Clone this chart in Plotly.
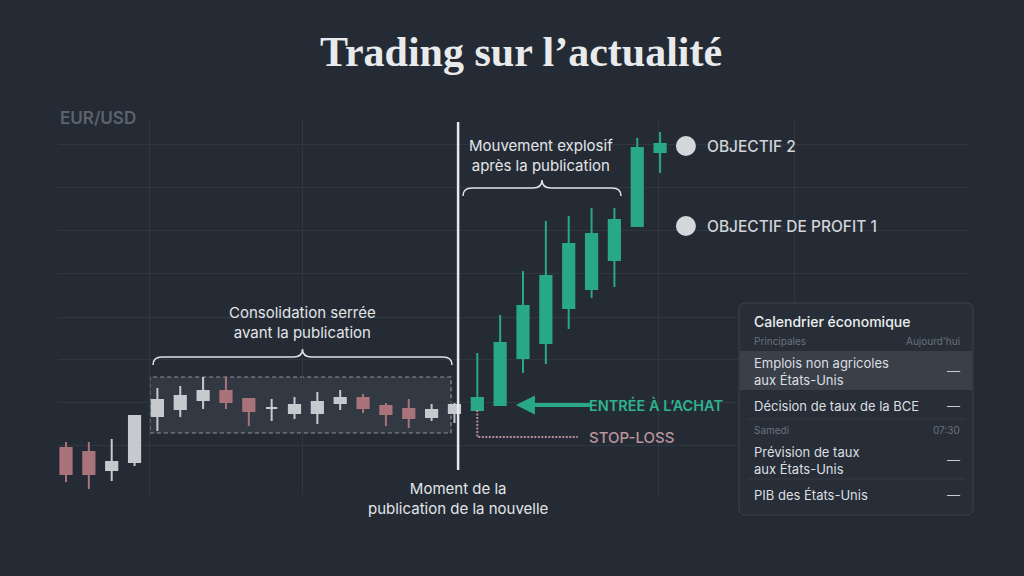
import plotly.graph_objects as go

# ---------------- data ----------------
# candle index (time steps); news released between candle 17 and 18
pre_idx = list(range(0, 18))
pre_open = [1.0882, 1.0878, 1.0860, 1.0868, 1.0914, 1.0921, 1.0930, 1.0939, 1.0931,
            1.0922, 1.0917, 1.0917, 1.0927, 1.0932, 1.0924, 1.0921, 1.0913, 1.0917]
pre_high = [1.0888, 1.0888, 1.0891, 1.0915, 1.0942, 1.0944, 1.0953, 1.0953, 1.0932,
            1.0931, 1.0933, 1.0938, 1.0940, 1.0936, 1.0927, 1.0931, 1.0926, 1.0927]
pre_low = [1.0848, 1.0841, 1.0849, 1.0864, 1.0899, 1.0913, 1.0921, 1.0921, 1.0904,
           1.0909, 1.0911, 1.0906, 1.0920, 1.0917, 1.0904, 1.0902, 1.0909, 1.0907]
pre_close = [1.0856, 1.0856, 1.0868, 1.0914, 1.0930, 1.0934, 1.0939, 1.0928, 1.0919,
             1.0922, 1.0925, 1.0928, 1.0932, 1.0922, 1.0916, 1.0912, 1.0920, 1.0925]

post_idx = list(range(18, 27))
post_open = [1.0920, 1.0925, 1.0972, 1.0987, 1.1022, 1.1041, 1.1070, 1.1104, 1.1178]
post_high = [1.0977, 1.1015, 1.1059, 1.1109, 1.1114, 1.1122, 1.1122, 1.1192, 1.1198]
post_low = [1.0920, 1.0925, 1.0957, 1.0966, 1.1001, 1.1032, 1.1043, 1.1104, 1.1157]
post_close = [1.0932, 1.0987, 1.1024, 1.1054, 1.1086, 1.1096, 1.1110, 1.1182, 1.1186]

news_index = 17.16
consol_x = [3.67, 16.85]
consol_y = [1.0897, 1.0953]
entry_price = 1.0925
stop_loss = 1.0893
target_1 = 1.1104
target_2 = 1.1184
target_x = 27.13

calendar_rows = [
    ("Emplois non agricoles<br>aux États-Unis", "—"),
    ("Décision de taux de la BCE", "—"),
    ("Prévision de taux<br>aux États-Unis", "—"),
    ("PIB des États-Unis", "—"),
]

# ---------------- style ----------------
BG = "#242b35"
GRID = "#2f3741"
GREEN = "#29a886"
RED = "#a9737a"
LIGHT = "#c6cacf"
TXT = "#e3e5e8"
SANS = "Inter"

W, H = 1024, 576
def PX(x): return x / W
def PY(y): return 1 - y / H

fig = go.Figure()

fig.add_trace(go.Candlestick(
    x=pre_idx, open=pre_open, high=pre_high, low=pre_low, close=pre_close,
    increasing=dict(line=dict(color=LIGHT, width=2), fillcolor=LIGHT),
    decreasing=dict(line=dict(color=RED, width=2), fillcolor=RED),
    hoverinfo="skip", showlegend=False))

fig.add_trace(go.Candlestick(
    x=post_idx, open=post_open, high=post_high, low=post_low, close=post_close,
    increasing=dict(line=dict(color=GREEN, width=2), fillcolor=GREEN),
    decreasing=dict(line=dict(color=GREEN, width=2), fillcolor=GREEN),
    hoverinfo="skip", showlegend=False))

# stop-loss bracket
fig.add_trace(go.Scatter(
    x=[post_idx[0], post_idx[0], 22.4], y=[post_low[0], stop_loss, stop_loss],
    mode="lines", line=dict(color="#b98e95", width=2, dash="2px,1.5px"),
    hoverinfo="skip", showlegend=False))

# profit targets
fig.add_trace(go.Scatter(
    x=[target_x, target_x], y=[target_2, target_1], mode="markers",
    marker=dict(size=20, color="#d3d6da"), hoverinfo="skip", showlegend=False))

shapes = []
# consolidation box
shapes.append(dict(type="rect", xref="x", yref="y", x0=consol_x[0], x1=consol_x[1],
                   y0=consol_y[0], y1=consol_y[1], fillcolor="rgba(255,255,255,0.07)",
                   line=dict(color="#8d939a", width=1.2, dash="4px,3px"), layer="below"))
# news line
shapes.append(dict(type="line", xref="x", yref="paper", x0=news_index, x1=news_index,
                   y0=PY(470), y1=PY(122), line=dict(color="#e6e8ea", width=2.5)))


def brace(x0, x1, y, h=8, r=9):
    xm = (x0 + x1) / 2
    pts = [
        ("M", [(x0, y + h)]),
        ("Q", [(x0, y), (x0 + r, y)]),
        ("L", [(xm - r, y)]),
        ("Q", [(xm, y), (xm, y - h)]),
        ("Q", [(xm, y), (xm + r, y)]),
        ("L", [(x1 - r, y)]),
        ("Q", [(x1, y), (x1, y + h)]),
    ]
    s = ""
    for cmd, ps in pts:
        s += cmd + " " + " ".join(f"{PX(a):.5f},{PY(b):.5f}" for a, b in ps) + " "
    return dict(type="path", xref="paper", yref="paper", path=s,
                line=dict(color="#dfe2e5", width=1.5))

shapes.append(brace(153, 452, 357))
shapes.append(brace(463, 621, 188))


def rrect(x0, y0, x1, y1, r):
    p = (f"M {PX(x0+r)},{PY(y0)} L {PX(x1-r)},{PY(y0)} Q {PX(x1)},{PY(y0)} {PX(x1)},{PY(y0+r)} "
         f"L {PX(x1)},{PY(y1-r)} Q {PX(x1)},{PY(y1)} {PX(x1-r)},{PY(y1)} "
         f"L {PX(x0+r)},{PY(y1)} Q {PX(x0)},{PY(y1)} {PX(x0)},{PY(y1-r)} "
         f"L {PX(x0)},{PY(y0+r)} Q {PX(x0)},{PY(y0)} {PX(x0+r)},{PY(y0)} Z")
    return p

# calendar panel
shapes.append(dict(type="path", xref="paper", yref="paper", path=rrect(739, 303, 973, 515, 7),
                   fillcolor="#272e38", line=dict(color="#3b424c", width=1)))
shapes.append(dict(type="rect", xref="paper", yref="paper", x0=PX(740), x1=PX(972),
                   y0=PY(390), y1=PY(351), fillcolor="#3a4049", line=dict(width=0)))
for yy in [419, 479]:
    shapes.append(dict(type="line", xref="paper", yref="paper", x0=PX(748), x1=PX(965),
                       y0=PY(yy), y1=PY(yy), line=dict(color="#343b45", width=1)))

ann = []
def txt(x, y, s, size, color, xanchor="center", weight=400, family=SANS):
    ann.append(dict(x=PX(x), y=PY(y), xref="paper", yref="paper", text=s, showarrow=False,
                    xanchor=xanchor, yanchor="middle", align="left" if xanchor == "left" else
                    ("right" if xanchor == "right" else "center"),
                    font=dict(family=family, size=size, color=color, weight=weight)))

txt(521, 52, "Trading sur l’actualité", 42, "#e9eaeb", weight=700, family="Liberation Serif")
txt(58, 118, "EUR/USD", 17, "#5a636e", "left", 600)
txt(302, 322, "Consolidation serrée<br>avant la publication", 15, TXT)
txt(541, 156, "Mouvement explosif<br>après la publication", 15, TXT)
txt(458, 498, "Moment de la<br>publication de la nouvelle", 15, TXT)
txt(587, 405, "ENTRÉE À L’ACHAT", 14.5, "#2fb38e", "left", 600)
txt(587, 437, "STOP-LOSS", 15, "#bb959b", "left", 500)
txt(705, 146, "OBJECTIF 2", 15.5, "#d0d4d8", "left", 500)
txt(705, 226, "OBJECTIF DE PROFIT 1", 15.5, "#d0d4d8", "left", 500)

# calendar texts
txt(752, 321, "Calendrier économique", 14, "#eceef0", "left", 500)
txt(752, 341, "Principales", 10, "#6a727c", "left")
txt(962, 341, "Aujourd'hui", 10, "#6a727c", "right")
row_y = [371, 406, 460, 495]
for (label, val), yy in zip(calendar_rows, row_y):
    txt(752, yy, label, 13, "#dcdee1", "left")
    txt(962, yy, val, 13, "#c8cbd0", "right")
txt(752, 430, "Samedi", 10, "#6a727c", "left")
txt(962, 430, "07:30", 10, "#6a727c", "right")

# entry arrow
ann.append(dict(x=19.69, y=entry_price, xref="x", yref="y", ax=23.0, ay=entry_price,
                axref="x", ayref="y", text="", showarrow=True, arrowhead=2,
                arrowsize=0.95, arrowwidth=4, arrowcolor=GREEN))

x_grid = [3.676, 10.33, 25.95, 31.86]
y_grid = [1.1186, 1.1143, 1.1100, 1.1057, 1.1013, 1.0971, 1.0928, 1.0885]

fig.update_layout(
    width=W, height=H, margin=dict(l=0, r=0, t=0, b=0),
    paper_bgcolor=BG, plot_bgcolor=BG, shapes=shapes, annotations=ann,
    showlegend=False,
    xaxis=dict(domain=[PX(58), PX(968)], range=[-0.35, 39.475], tickvals=x_grid,
               showticklabels=False, showgrid=True, gridcolor=GRID, gridwidth=1,
               zeroline=False, showline=False, ticks="", rangeslider=dict(visible=False),
               fixedrange=True),
    yaxis=dict(domain=[1 - 495 / H, 1 - 120 / H], range=[1.0835, 1.1210], tickvals=y_grid,
               showticklabels=False, showgrid=True, gridcolor=GRID, gridwidth=1,
               zeroline=False, showline=False, ticks="", fixedrange=True),
)

fig.write_html("out.html", config={"displayModeBar": False})
